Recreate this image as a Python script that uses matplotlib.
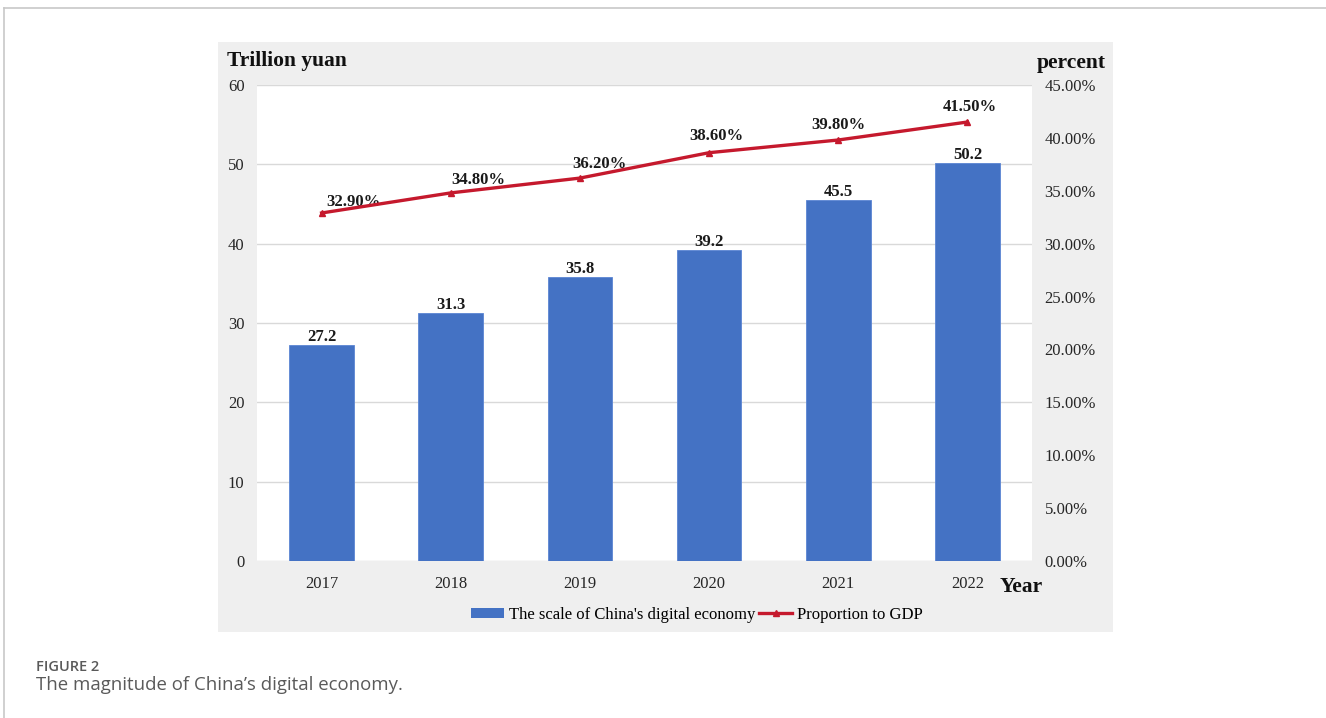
import matplotlib
matplotlib.use("Agg")
import matplotlib.pyplot as plt
from matplotlib.patches import Rectangle, Patch
from matplotlib.lines import Line2D
from matplotlib.ticker import FuncFormatter, MultipleLocator

# ---- data ----
years = ["2017", "2018", "2019", "2020", "2021", "2022"]
scale_trillion = [27.2, 31.3, 35.8, 39.2, 45.5, 50.2]
share_of_gdp = [32.9, 34.8, 36.2, 38.6, 39.8, 41.5]

# label nudges (points) for the percentage annotations
pct_label_offsets = [(23, 8), (20, 9), (14, 10), (5, 12), (0, 11), (2, 11)]

W, H = 1326, 718
fig = plt.figure(figsize=(W / 100, H / 100), dpi=100)
fig.patch.set_facecolor("white")

serif = ["Liberation Serif", "DejaVu Serif"]
plt.rcParams["font.family"] = serif

def fx(px):
    return px / W

def fy(py):
    return 1 - py / H

# page frame lines
fig.add_artist(Line2D([fx(4), 1], [fy(8), fy(8)], color="#c8c8c8", lw=1.2))
fig.add_artist(Line2D([fx(4), fx(4)], [fy(8), 0], color="#c8c8c8", lw=1.2))

# grey chart panel
fig.add_artist(Rectangle((fx(218), fy(632)), fx(1113) - fx(218), fy(42) - fy(632),
                         facecolor="#efefef", edgecolor="none", zorder=0))

ax_left, ax_right, ax_top, ax_bot = 257, 1032, 85, 561
ax = fig.add_axes([fx(ax_left), fy(ax_bot), fx(ax_right) - fx(ax_left), fy(ax_top) - fy(ax_bot)])
ax.set_facecolor("white")
ax.set_zorder(1)

x = list(range(len(years)))
bar_color = "#4472C4"
bars = ax.bar(x, scale_trillion, width=0.5, color=bar_color, edgecolor="#5b85d3",
              linewidth=0.6, zorder=3)
ax.set_xlim(-0.5, len(years) - 0.5)
ax.set_ylim(0, 60)
ax.yaxis.set_major_locator(MultipleLocator(10))
ax.grid(axis="y", color="#d9d9d9", linewidth=1.0, zorder=0)
ax.set_axisbelow(True)
for s in ax.spines.values():
    s.set_visible(False)
ax.set_xticks(x)
ax.set_xticklabels(years)
ax.tick_params(axis="both", length=0, labelsize=12, colors="#262626")
ax.tick_params(axis="y", pad=9)
ax.tick_params(axis="x", pad=10.5)

for xi, v in zip(x, scale_trillion):
    ax.annotate(f"{v:.1f}", (xi, v), xytext=(0, 0), textcoords="offset points",
                ha="center", va="bottom", fontsize=12, fontweight="bold", color="#1a1a1a")

ax2 = ax.twinx()
line_color = "#C5192D"
ax2.plot(x, share_of_gdp, color=line_color, linewidth=2.4, marker="^",
         markersize=5, zorder=4)
ax2.set_ylim(0, 45)
ax2.yaxis.set_major_locator(MultipleLocator(5))
ax2.yaxis.set_major_formatter(FuncFormatter(lambda v, p: f"{v:.2f}%"))
for s in ax2.spines.values():
    s.set_visible(False)
ax2.tick_params(axis="y", length=0, labelsize=12, colors="#262626", pad=9)

for xi, v, (dx, dy) in zip(x, share_of_gdp, pct_label_offsets):
    ax2.annotate(f"{v:.2f}%", (xi, v), xytext=(dx, dy), textcoords="offset points",
                 ha="center", va="center", fontsize=12, fontweight="bold", color="#1a1a1a")

# axis titles
fig.text(fx(227), fy(61), "Trillion yuan", ha="left", va="center",
         fontsize=15.5, fontweight="bold", color="#111111")
fig.text(fx(1037), fy(63), "percent", ha="left", va="center",
         fontsize=15.5, fontweight="bold", color="#111111")
fig.text(fx(1000), fy(587), "Year", ha="left", va="center",
         fontsize=15.5, fontweight="bold", color="#111111")

# legend
handles = [Patch(facecolor=bar_color, edgecolor="none"),
           Line2D([0], [0], color=line_color, lw=2.4, marker="^", markersize=5)]
labels = ["The scale of China's digital economy", "Proportion to GDP"]
fig.legend(handles, labels, loc="center", bbox_to_anchor=(fx(697), fy(615)),
           ncol=2, frameon=False, fontsize=12, handlelength=2.0, handleheight=0.6,
           handletextpad=0.3, columnspacing=0.2, borderaxespad=0)

# caption
fig.text(fx(36), fy(667), "FIGURE 2", ha="left", va="center", fontsize=10.5,
         fontweight="semibold", color="#5a5a5a", family=["Open Sans", "DejaVu Sans"])
fig.text(fx(36), fy(685), "The magnitude of China\u2019s digital economy.", ha="left",
         va="center", fontsize=13.4, color="#5a5a5a", family=["Open Sans", "DejaVu Sans"])

fig.savefig("out.png", dpi=100, facecolor="white")
